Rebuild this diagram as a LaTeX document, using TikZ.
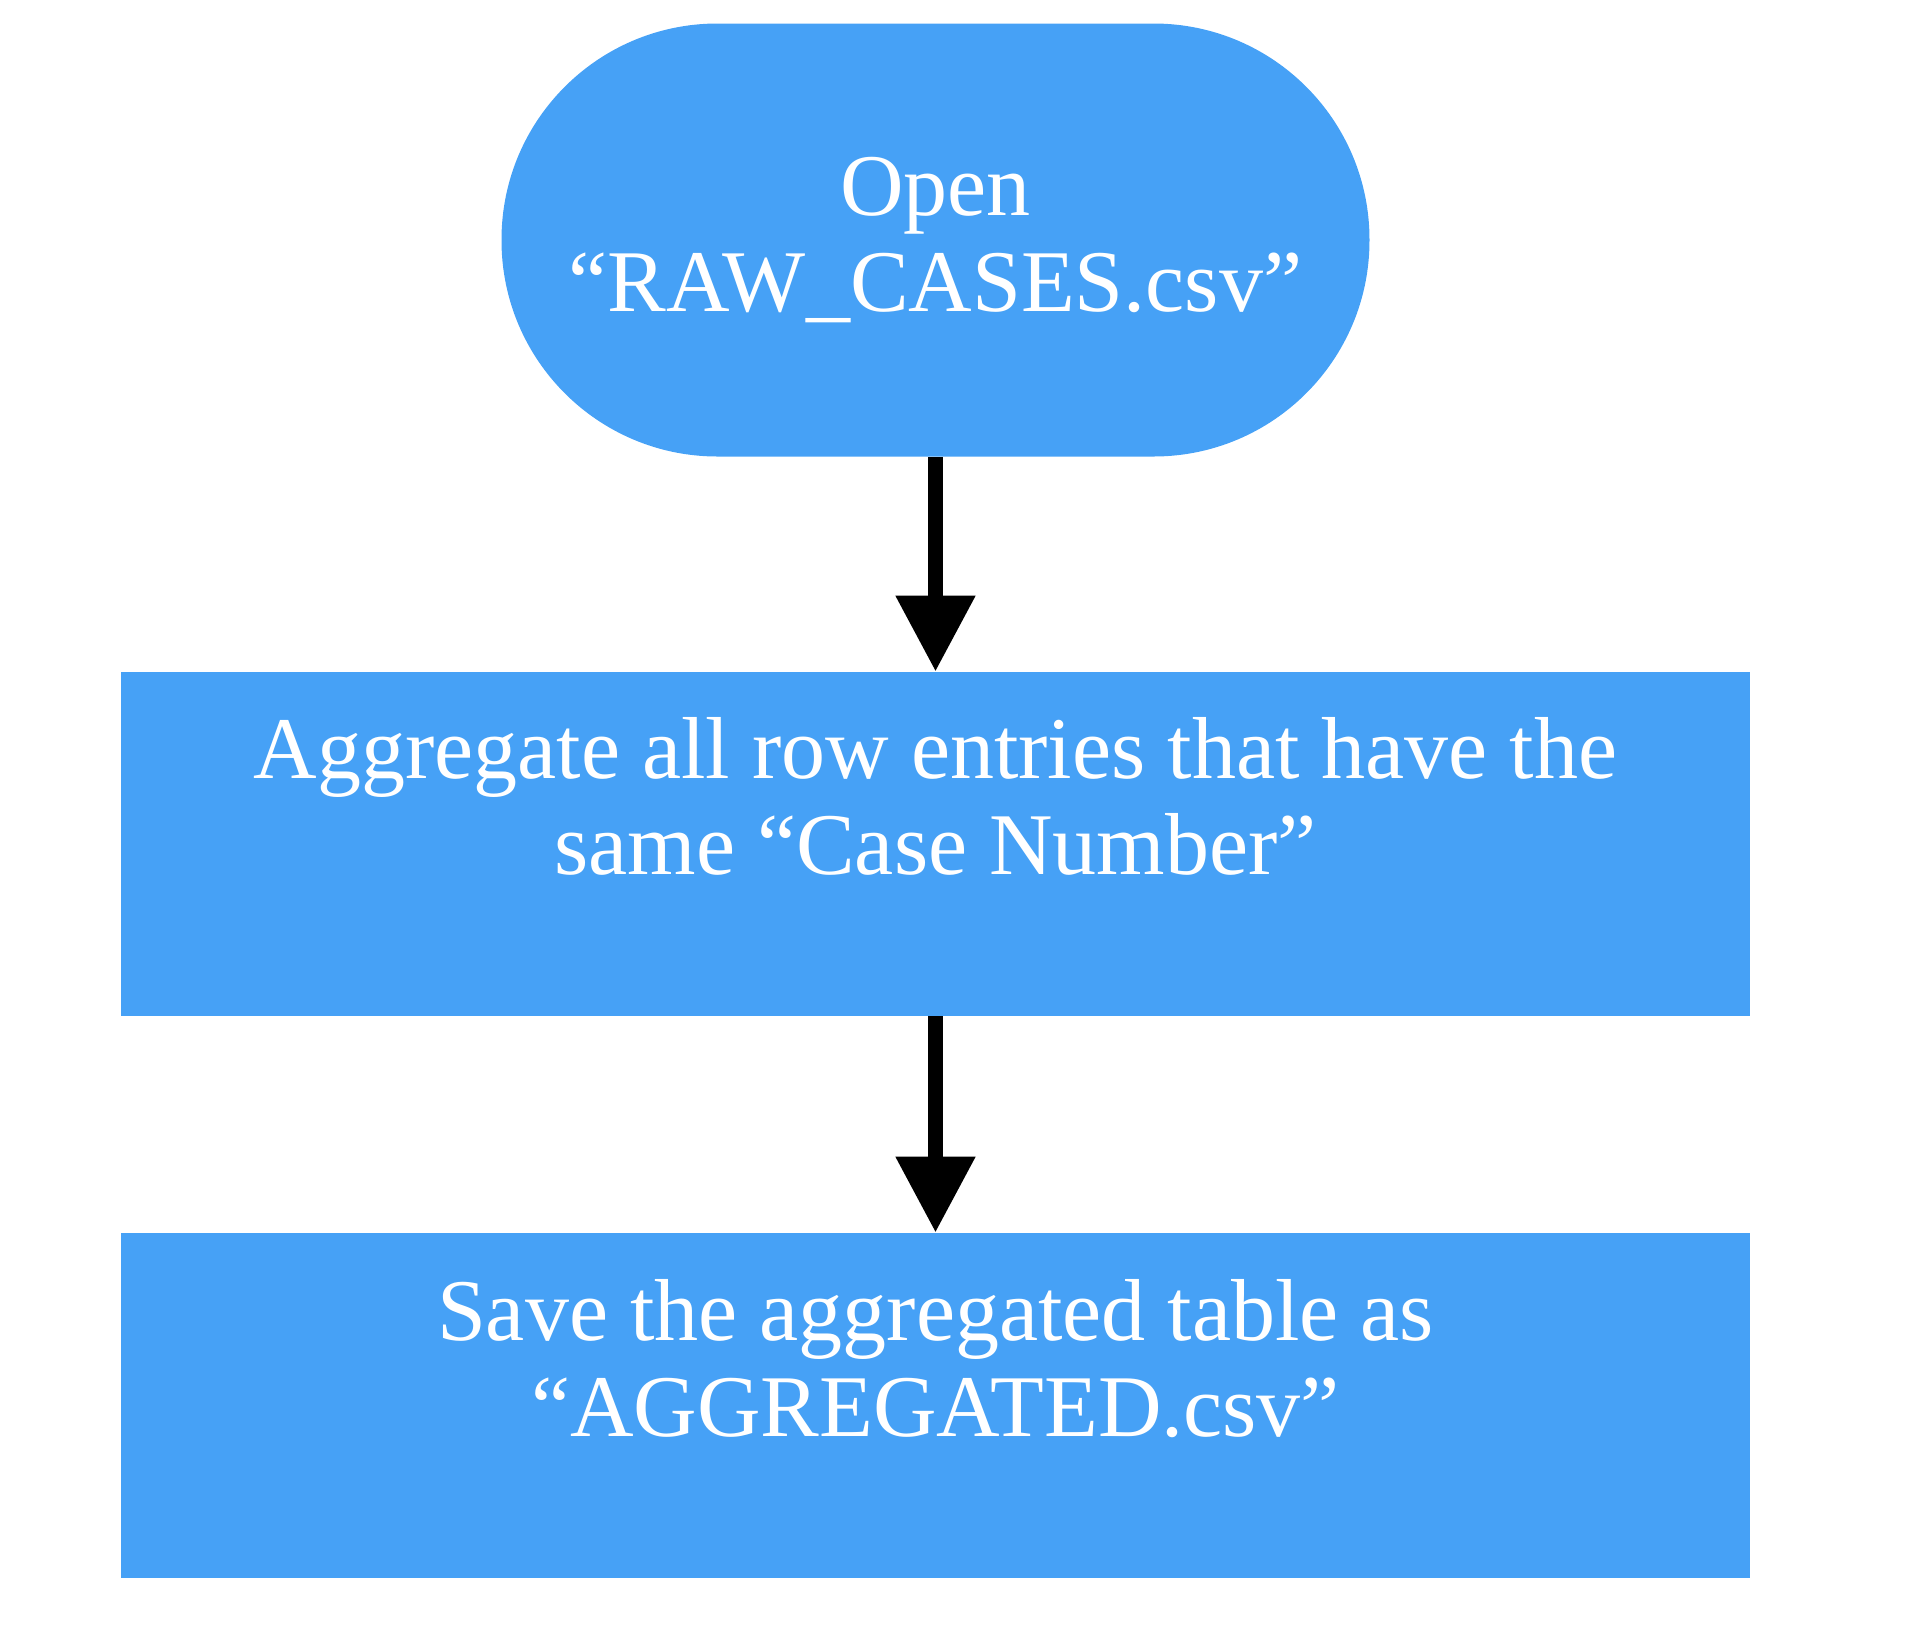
\documentclass[tikz,border=0pt]{standalone}
\usepackage{fontspec}
\setmainfont{Liberation Serif}
\usetikzlibrary{arrows.meta}
\definecolor{stepblue}{HTML}{46A1F6}
\tikzset{
  stepbox/.style={rectangle, fill=stepblue, draw=none, inner sep=0pt, text=white,
    align=center, font=\fontsize{44pt}{48pt}\selectfont},
  flow/.style={-{Triangle[length=38pt,width=38pt]}, line width=7.5pt}
}
\begin{document}
\begin{tikzpicture}[x=0.5pt,y=-0.5pt] % one unit is one pixel of the layout
        \useasboundingbox (0,0) rectangle (1924,1630);
        % start
        \node[stepbox, rounded corners=108pt, minimum width=434pt, minimum height=216.5pt] (open) at (935.5,240) {Open\\“RAW\_CASES.csv”};
        % steps
        \node[stepbox, minimum width=814.5pt, minimum height=172pt] (aggregate) at (935.5,844) {Aggregate all row entries that have the\\same “Case Number”\\\mbox{}};
        \node[stepbox, minimum width=814.5pt, minimum height=172.5pt] (save) at (935.5,1405.5) {Save the aggregated table as\\“AGGREGATED.csv”\\\mbox{}};

        % arrows
        \draw[flow] (open) -- (aggregate);
        \draw[flow] (aggregate) -- (save);
\end{tikzpicture}
\end{document}
